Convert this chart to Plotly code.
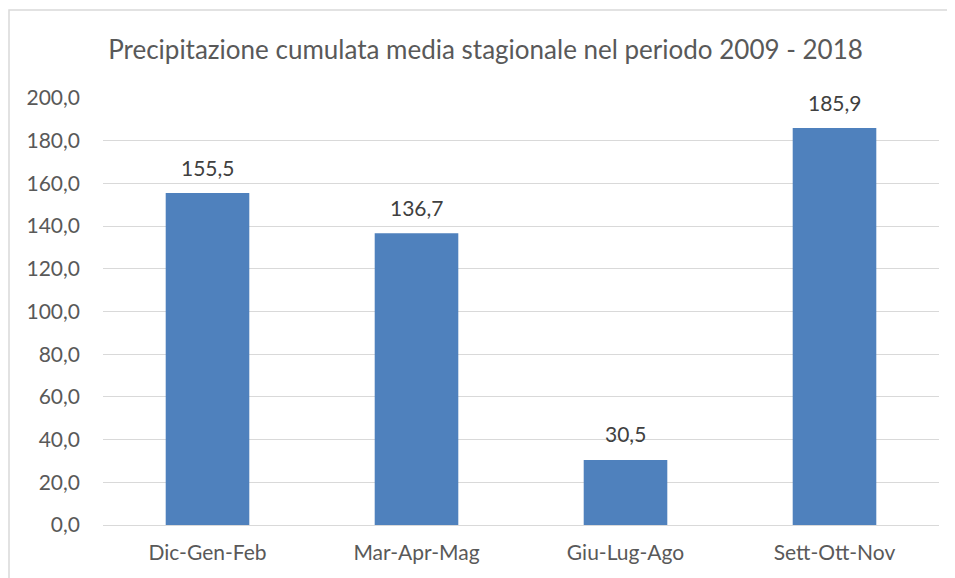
import plotly.graph_objects as go

categories = ["Dic-Gen-Feb", "Mar-Apr-Mag", "Giu-Lug-Ago", "Sett-Ott-Nov"]
values = [155.5, 136.7, 30.5, 185.9]
title_text = "Precipitazione cumulata media stagionale nel periodo 2009 - 2018"

FONT = "Lato, Open Sans, sans-serif"
GRAY = "#595959"

L, R, T, B = 95, 24, 90, 61
PW = 955 - L - R
PH = 578 - T - B

fig = go.Figure(go.Bar(
    x=categories, y=values,
    marker=dict(color="#4F81BD", line=dict(width=0)),
    width=0.4,
    hoverinfo="x+y",
))

for c, v in zip(categories, values):
    fig.add_annotation(x=c, y=v, text=f"{v:.1f}".replace(".", ","), showarrow=False,
                       yanchor="middle", yshift=26,
                       font=dict(size=21, color="#404040", family=FONT))

fig.update_layout(
    width=955, height=578,
    margin=dict(l=L, r=R, t=T, b=B),
    paper_bgcolor="white", plot_bgcolor="white",
    separators=",.",
    title=dict(text=title_text, x=0.5, xanchor="center", y=1 - 42/578, yanchor="middle",
               font=dict(size=26, color=GRAY, family=FONT)),
    showlegend=False,
    font=dict(family=FONT, color=GRAY),
    xaxis=dict(showgrid=False, showline=False, tickfont=dict(size=21, color=GRAY),
               ticklabelstandoff=13),
    yaxis=dict(range=[0, 200], dtick=20, tickformat=".1f", showgrid=True,
               gridcolor="#D9D9D9", gridwidth=1, zeroline=True, zerolinecolor="#D9D9D9",
               zerolinewidth=1, showline=False, tickfont=dict(size=21, color=GRAY),
               ticklabelstandoff=22),
    shapes=[dict(type="rect", xref="paper", yref="paper",
                 x0=(1 - L) / PW, x1=1.2, y0=-0.3, y1=(T + PH - 2) / PH,
                 line=dict(color="#D9D9D9", width=1.5), fillcolor="rgba(0,0,0,0)", layer="below")],
)

fig.write_html("out.html")
